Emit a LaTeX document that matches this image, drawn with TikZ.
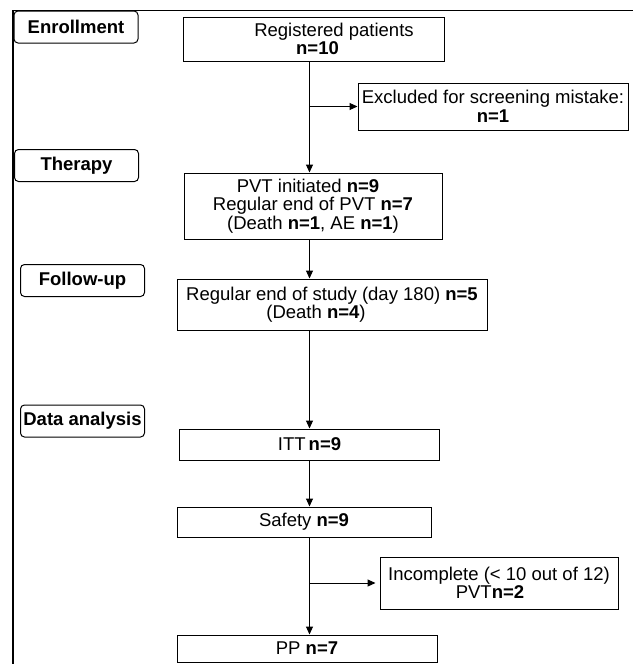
\documentclass[tikz,border=0pt]{standalone}
\usepackage{fontspec}
\setmainfont{Liberation Sans}
\usepackage{tikz}
\usetikzlibrary{positioning,arrows.meta}

\newcommand{\flowfont}{\fontsize{18.5}{18.5}\selectfont}

\begin{document}
\begin{tikzpicture}[x=1pt,y=-1pt,-,auto,line width=1pt,
                    stage node/.style={draw,rounded corners=4pt,inner sep=0pt,
                      minimum width=124pt,minimum height=32pt,font=\flowfont\bfseries},
                    flow node/.style={draw,align=center,inner sep=0pt,font=\flowfont},
                    flow arrow/.style={-{Triangle[width=7pt,length=8pt]}}]

  \useasboundingbox (0,0) rectangle (633,664);
  \draw[line width=1.3pt] (13,664) -- (13,10.5) -- (633,10.5);

  % stages on the left
  \node[stage node] (enroll) at (76,27) {Enrollment};
  \node[stage node] (therapy) at (76.5,165.5) {Therapy};
  \node[stage node] (follow) at (82.5,280.5) {Follow-up};
  \node[stage node] (analysis) at (82.5,421) {Data analysis};

  % flow boxes
  \node[flow node,minimum width=261pt,minimum height=44pt] (reg) at (313.5,39)
    {\hspace*{41pt}Registered patients\\\hspace*{8pt}\textbf{n=10}};
  \node[flow node,minimum width=270pt,minimum height=47pt] (excl) at (493,106.5)
    {Excluded for screening mistake:\\\textbf{n=1}};
  \node[flow node,minimum width=258pt,minimum height=66pt] (pvt) at (313,206)
    {PVT initiated \textbf{n=9}\hspace*{10pt}\\Regular end of PVT \textbf{n=7}\\(Death \textbf{n=1}, AE \textbf{n=1})};
  \node[flow node,minimum width=310pt,minimum height=51pt] (fu) at (332,304.5)
    {Regular end of study (day 180) \textbf{n=5}\\(Death \textbf{n=4})\hspace*{32pt}};
  \node[flow node,minimum width=260pt,minimum height=31pt] (itt) at (309.5,444.5)
    {ITT\,\textbf{n=9}};
  \node[flow node,minimum width=254pt,minimum height=30pt] (safety) at (304,522)
    {Safety \textbf{n=9}};
  \node[flow node,minimum width=238pt,minimum height=52pt] (inc) at (499,583)
    {Incomplete (< 10 out of 12)\\PVT\textbf{n=2}\hspace*{18pt}};
  \node[flow node,minimum width=260pt,minimum height=27pt] (pp) at (307,648.5)
    {PP \textbf{n=7}};

  \coordinate (split1) at (itt |- excl.west);
  \coordinate (split2) at (itt |- inc.west);

  \path[every edge/.style={draw,flow arrow}]
    (reg.south -| itt) edge (pvt.north -| itt)
    (split1) edge (excl.west)
    (pvt.south -| itt) edge (fu.north -| itt)
    (fu.south -| itt) edge (itt.north)
    (itt.south) edge (safety.north -| itt)
    (safety.south -| itt) edge (pp.north -| itt)
    (split2) edge[shorten >=4pt] (inc.west);

\end{tikzpicture}
\end{document}
